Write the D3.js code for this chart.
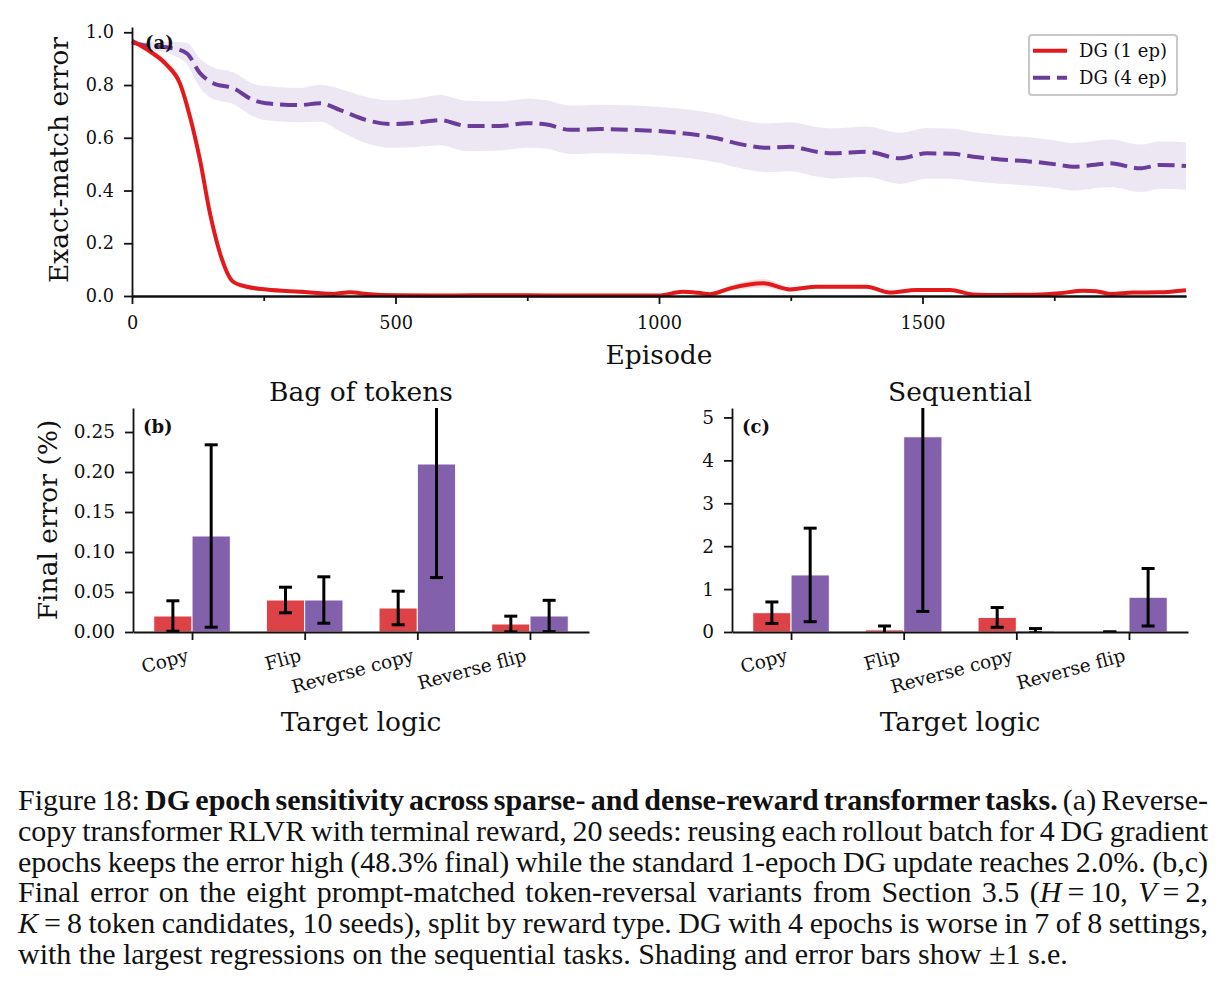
<!DOCTYPE html>
<meta charset="utf-8">
<style>
body { margin: 0; background: #fff; }
svg text { font-family: "DejaVu Serif", serif; fill: #111; }
</style>
<svg width="1225" height="997"></svg>
<script src="https://cdn.jsdelivr.net/npm/d3@7"></script>
<script>
// (a) learning curves
var epRed = [0, 28, 66, 91, 110, 129, 148, 167, 192, 218, 255, 319, 382, 414, 445, 500, 600, 700, 800, 900,
  1000, 1045, 1075, 1097, 1135, 1198, 1249, 1299, 1394, 1438, 1489, 1552, 1596, 1650, 1710, 1760, 1805, 1830,
  1856, 1900, 1950, 2000];
var errRed = [0.968, 0.935, 0.876, 0.806, 0.68, 0.516, 0.313, 0.162, 0.054, 0.035, 0.025, 0.016, 0.008, 0.014,
  0.008, 0.003, 0.002, 0.003, 0.002, 0.002, 0.002, 0.016, 0.012, 0.007, 0.029, 0.048, 0.025, 0.035, 0.035, 0.013,
  0.023, 0.023, 0.006, 0.004, 0.005, 0.01, 0.02, 0.018, 0.008, 0.013, 0.014, 0.022];
var seRed = [0, 0.01, 0.015, 0.02, 0.025, 0.025, 0.025, 0.02, 0.012, 0.008, 0.006, 0.005, 0.004, 0.005, 0.004,
  0.003, 0.002, 0.002, 0.002, 0.002, 0.002, 0.006, 0.006, 0.005, 0.01, 0.016, 0.009, 0.007, 0.007, 0.006, 0.007,
  0.007, 0.004, 0.003, 0.003, 0.005, 0.007, 0.007, 0.005, 0.006, 0.006, 0.007];

var epPurple = [0, 27, 77, 104, 129, 154, 192, 230, 254, 319, 357, 395, 445, 490, 540, 584, 635, 698, 749, 787,
  831, 888, 951, 1015, 1059, 1110, 1154, 1204, 1249, 1299, 1331, 1394, 1457, 1508, 1558, 1596, 1647, 1710, 1761,
  1786, 1856, 1913, 1951, 2000];
var errPurple = [0.96, 0.95, 0.939, 0.92, 0.845, 0.807, 0.788, 0.743, 0.731, 0.724, 0.731, 0.705, 0.667, 0.652,
  0.657, 0.667, 0.645, 0.645, 0.655, 0.65, 0.63, 0.633, 0.63, 0.623, 0.614, 0.598, 0.576, 0.562, 0.566, 0.547,
  0.541, 0.547, 0.522, 0.541, 0.539, 0.528, 0.518, 0.509, 0.497, 0.49, 0.503, 0.484, 0.497, 0.493];
var sePurple = [0.005, 0.012, 0.025, 0.04, 0.055, 0.06, 0.06, 0.062, 0.065, 0.065, 0.07, 0.08, 0.088, 0.09, 0.092,
  0.095, 0.095, 0.093, 0.093, 0.092, 0.092, 0.092, 0.092, 0.092, 0.092, 0.092, 0.092, 0.092, 0.093, 0.094, 0.095,
  0.096, 0.097, 0.096, 0.095, 0.093, 0.092, 0.091, 0.09, 0.09, 0.09, 0.09, 0.09, 0.09];

var seriesNames = ["DG (1 ep)", "DG (4 ep)"];
var episodeTicks = [0, 500, 1000, 1500];
var episodeMinor = [250, 750, 1250, 1750];
var errorTicks = [0, 0.2, 0.4, 0.6, 0.8, 1.0];

// (b,c) final errors
var logicCats = ["Copy", "Flip", "Reverse copy", "Reverse flip"];
var bagOne = [0.02, 0.04, 0.03, 0.01], bagOneSe = [0.019, 0.016, 0.021, 0.0098];
var bagFour = [0.12, 0.04, 0.21, 0.02], bagFourSe = [0.114, 0.029, 0.142, 0.0196];
var seqOne = [0.45, 0.05, 0.34, 0.0], seqOneSe = [0.25, 0.09, 0.23, 0];
var seqFour = [1.33, 4.55, 0.03, 0.81], seqFourSe = [1.09, 4.07, 0.05, 0.67];
var bagTicks = [0, 0.05, 0.1, 0.15, 0.2, 0.25];
var seqTicks = [0, 1, 2, 3, 4, 5];

var RED = "#e31a1c", PURPLE = "#6a3d9a";
var BAR_RED = "#dd4247", BAR_PURPLE = "#8360ab";

var svg = d3.select("svg");

function styleAxis(g, size) {
  g.attr("font-size", size);
  g.selectAll("path, line").attr("stroke", "#111").attr("stroke-width", 1.8);
  g.selectAll("text").attr("fill", "#111");
}

// ---------- (a) ----------
var x = d3.scaleLinear().domain([0, 2000]).range([132, 1186]);
var y = d3.scaleLinear().domain([0, 1.02]).range([296, 27]);

function rows(ep, v, se) { return ep.map(function(e, i) { return {ep: e, v: v[i], se: se[i]}; }); }
var redRows = rows(epRed, errRed, seRed), purpleRows = rows(epPurple, errPurple, sePurple);

var band = d3.area().curve(d3.curveMonotoneX)
    .x(function(d) { return x(d.ep); })
    .y0(function(d) { return y(Math.max(0, d.v - d.se)); })
    .y1(function(d) { return y(d.v + d.se); });
var line = d3.line().curve(d3.curveMonotoneX)
    .x(function(d) { return x(d.ep); })
    .y(function(d) { return y(d.v); });

var ga = svg.append("g");
ga.append("path").datum(purpleRows).attr("fill", PURPLE).attr("fill-opacity", 0.12).attr("d", band);
ga.append("path").datum(redRows).attr("fill", RED).attr("fill-opacity", 0.15).attr("d", band);
ga.append("path").datum(purpleRows).attr("fill", "none").attr("stroke", PURPLE)
    .attr("stroke-width", 4).attr("stroke-dasharray", "17,7").attr("d", line);
ga.append("path").datum(redRows).attr("fill", "none").attr("stroke", RED)
    .attr("stroke-width", 4).attr("d", line);

ga.append("g").attr("transform", "translate(0,296)")
    .call(d3.axisBottom(x).tickValues(episodeMinor).tickSize(5).tickSizeOuter(0).tickFormat(""))
    .call(styleAxis, 17.7);
ga.append("g").attr("transform", "translate(0,296)")
    .call(d3.axisBottom(x).tickValues(episodeTicks).tickFormat(d3.format("d")).tickSize(8).tickSizeOuter(0).tickPadding(12))
    .call(styleAxis, 17.7);
ga.append("g").attr("transform", "translate(132,0)")
    .call(d3.axisLeft(y).tickValues(errorTicks).tickFormat(d3.format(".1f")).tickSize(8).tickSizeOuter(0).tickPadding(10))
    .call(styleAxis, 17.7);

ga.append("text").attr("x", 659).attr("y", 364).attr("text-anchor", "middle")
    .attr("font-size", 26.5).text("Episode");
ga.append("text").attr("transform", "translate(68,160) rotate(-90)").attr("text-anchor", "middle")
    .attr("font-size", 26.5).text("Exact-match error");
ga.append("text").attr("x", 145).attr("y", 49).attr("font-size", 18).attr("font-weight", "bold").text("(a)");

// legend
var lg = ga.append("g");
lg.append("rect").attr("x", 1029).attr("y", 35).attr("width", 148).attr("height", 60).attr("rx", 3)
    .attr("fill", "#fff").attr("stroke", "#c8c8c8").attr("stroke-width", 2);
[RED, PURPLE].forEach(function(c, i) {
  var ly = 50.7 + i * 27;
  lg.append("line").attr("x1", 1033).attr("x2", 1067).attr("y1", ly).attr("y2", ly)
      .attr("stroke", c).attr("stroke-width", 4).attr("stroke-dasharray", i ? "17,7" : null);
  lg.append("text").attr("x", 1079).attr("y", ly + 6.5).attr("font-size", 18).text(seriesNames[i]);
});

// ---------- (b), (c) ----------
function barPanel(left, title, tag, one, oneSe, four, fourSe, ymax, ticks, fmt, ylab) {
  var w = 0.34;
  var xs = d3.scaleLinear().domain([-0.524, 3.524]).range([left, left + 456]);
  var ys = d3.scaleLinear().domain([0, ymax]).range([632, 408]);
  var g = svg.append("g");
  var clipId = "clip" + tag;
  g.append("clipPath").attr("id", clipId).append("rect")
      .attr("x", left).attr("y", 408).attr("width", 456).attr("height", 224);

  var series = [{v: one, se: oneSe, c: BAR_RED, off: -w}, {v: four, se: fourSe, c: BAR_PURPLE, off: 0}];
  series.forEach(function(s) {
    g.append("g").selectAll("rect").data(s.v).join("rect")
        .attr("x", function(d, i) { return xs(i + s.off); })
        .attr("width", xs(w) - xs(0))
        .attr("y", function(d) { return ys(d); })
        .attr("height", function(d) { return ys(0) - ys(d); })
        .attr("fill", s.c).attr("stroke", "#fff").attr("stroke-width", 1);
  });
  series.forEach(function(s) {
    var eb = g.append("g").attr("clip-path", "url(#" + clipId + ")")
        .attr("stroke", "#000").attr("stroke-width", 3);
    s.v.forEach(function(d, i) {
      var cx = xs(i + s.off + w / 2), lo = ys(d - s.se[i]), hi = ys(d + s.se[i]);
      eb.append("line").attr("x1", cx).attr("x2", cx).attr("y1", lo).attr("y2", hi);
      eb.append("line").attr("x1", cx - 6.5).attr("x2", cx + 6.5).attr("y1", lo).attr("y2", lo);
      eb.append("line").attr("x1", cx - 6.5).attr("x2", cx + 6.5).attr("y1", hi).attr("y2", hi);
    });
  });

  var xa = g.append("g").attr("transform", "translate(0,632)")
      .call(d3.axisBottom(xs).tickValues([0, 1, 2, 3]).tickFormat(function(i) { return logicCats[i]; })
        .tickSize(8).tickSizeOuter(0))
      .call(styleAxis, 18.5);
  xa.selectAll("text").attr("y", null).attr("dy", null).attr("text-anchor", "end")
      .attr("transform", "translate(-3,29) rotate(-15)");
  g.append("g").attr("transform", "translate(" + left + ",0)")
      .call(d3.axisLeft(ys).tickValues(ticks).tickFormat(fmt).tickSize(8).tickSizeOuter(0).tickPadding(10))
      .call(styleAxis, 18.5);

  var cx = left + 228;
  g.append("text").attr("x", cx).attr("y", 401).attr("text-anchor", "middle").attr("font-size", 26.5).text(title);
  g.append("text").attr("x", cx).attr("y", 731).attr("text-anchor", "middle").attr("font-size", 26.5).text("Target logic");
  g.append("text").attr("x", left + 10).attr("y", 433).attr("font-size", 18).attr("font-weight", "bold").text("(" + tag + ")");
  if (ylab) {
    g.append("text").attr("transform", "translate(57,520) rotate(-90)").attr("text-anchor", "middle")
        .attr("font-size", 26.5).text(ylab);
  }
}

barPanel(133, "Bag of tokens", "b", bagOne, bagOneSe, bagFour, bagFourSe, 0.28, bagTicks, d3.format(".2f"), "Final error (%)");
barPanel(732, "Sequential", "c", seqOne, seqOneSe, seqFour, seqFourSe, 5.22, seqTicks, d3.format("d"), null);

// ---------- caption ----------
var captionLines = [
  [["Figure 18: "], ["DG epoch sensitivity across sparse- and dense-reward transformer tasks.", "b"], [" (a) Reverse-"]],
  [["copy transformer RLVR with terminal reward, 20 seeds: reusing each rollout batch for 4 DG gradient"]],
  [["epochs keeps the error high (48.3% final) while the standard 1-epoch DG update reaches 2.0%. (b,c)"]],
  [["Final error on the eight prompt-matched token-reversal variants from Section 3.5 ("], ["H", "i"], ["\u2009=\u200910, "], ["V", "i"], ["\u2009=\u20092,"]],
  [["K", "i"], ["\u2009=\u20098 token candidates, 10 seeds), split by reward type. DG with 4 epochs is worse in 7 of 8 settings,"]],
  [["with the largest regressions on the sequential tasks. Shading and error bars show \u00b11 s.e."]]
];
var cap = svg.append("g");
var capSize = 27;
var texts = captionLines.map(function(segs, li) {
  var t = cap.append("text").attr("x", 18).attr("y", 810 + li * 30.8)
      .style("font-family", "'Liberation Serif', 'Times New Roman', Times, serif")
      .style("font-size", capSize + "px");
  segs.forEach(function(s) {
    t.append("tspan").text(s[0])
        .style("font-weight", s[1] === "b" ? "bold" : null)
        .style("font-style", s[1] === "i" ? "italic" : null);
  });
  return t;
});
// fit font size on last (unjustified) line, then justify the others
var lastW = texts[5].node().getComputedTextLength();
capSize = capSize * 1050 / lastW;
texts.forEach(function(t, li) {
  t.style("font-size", capSize + "px");
  if (li < 5) {
    var n = t.node(), wNat = n.getComputedTextLength();
    var spaces = (n.textContent.match(/ /g) || []).length;
    t.style("word-spacing", ((1190 - wNat) / spaces) + "px");
  }
});
</script>
